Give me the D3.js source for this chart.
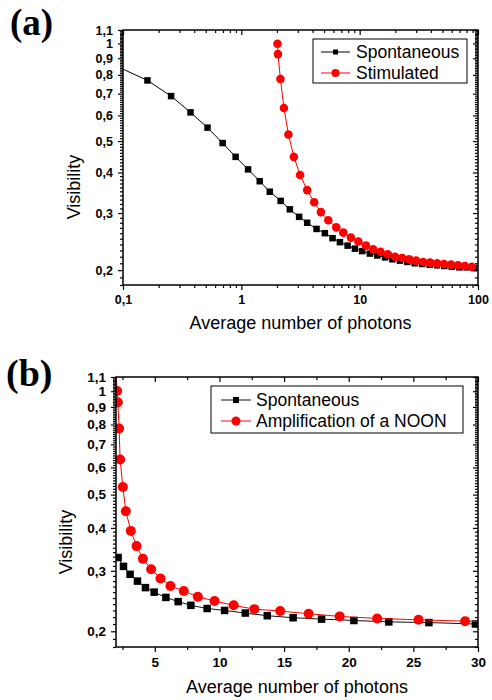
<!DOCTYPE html>
<html>
<head>
<meta charset="utf-8">
<script src="https://cdn.jsdelivr.net/npm/d3@7"></script>
<style>
  body { margin: 0; background: #fff; }
  svg { display: block; }
  .tick text { font-family: "Liberation Sans", Arial, sans-serif; font-weight: bold; }
</style>
</head>
<body>
<div id="vis"></div>
<script>
// Panel (a): log-log, average photon number vs visibility
var aSpontX = [0.09, 0.161, 0.255, 0.372, 0.518, 0.695, 0.895, 1.14, 1.43, 1.74, 2.15, 2.57, 3.08, 3.60, 4.32, 5.08, 5.90,
  6.81, 7.91, 9.12, 10.5, 12.2, 14.1, 16.4, 18.9, 21.9, 25.3, 29.2, 33.7, 39.0, 45.0, 52.0, 60.0, 69.5, 80.0, 93.0];
var aSpontV = [0.848, 0.769, 0.688, 0.613, 0.550, 0.493, 0.447, 0.409, 0.376, 0.349, 0.327, 0.308, 0.292, 0.280, 0.268, 0.260, 0.251,
  0.244, 0.238, 0.233, 0.229, 0.225, 0.222, 0.219, 0.216, 0.214, 0.212, 0.210, 0.209, 0.208, 0.207, 0.206, 0.205, 0.204, 0.204, 0.203];
var aStimX = [2.02, 2.04, 2.14, 2.29, 2.50, 2.78, 3.14, 3.60, 4.13, 4.70, 5.43, 6.34, 7.27, 8.44, 9.75, 11.3, 13.0, 15.0,
  17.3, 19.9, 22.9, 26.2, 30.0, 34.4, 39.4, 45.1, 51.6, 59.1, 67.7, 77.5, 88.7];
var aStimV = [0.998, 0.927, 0.777, 0.632, 0.524, 0.447, 0.393, 0.353, 0.324, 0.302, 0.285, 0.271, 0.261, 0.252, 0.245, 0.238, 0.232, 0.228,
  0.224, 0.220, 0.218, 0.216, 0.214, 0.212, 0.211, 0.210, 0.209, 0.208, 0.207, 0.206, 0.205];

// Panel (b): linear x, log y
var bSpontX = [2.16, 2.58, 3.09, 3.66, 4.28, 4.95, 5.86, 6.81, 7.79, 9.05, 10.4, 12.0, 13.7, 15.7, 17.9, 20.4, 23.1, 26.2, 29.8];
var bSpontV = [0.328, 0.309, 0.293, 0.280, 0.268, 0.260, 0.251, 0.244, 0.238, 0.233, 0.230, 0.226, 0.222, 0.219, 0.217, 0.215, 0.213, 0.212, 0.210];
var bNoonX = [1.98, 2.09, 2.14, 2.24, 2.32, 2.53, 2.76, 3.15, 3.59, 4.08, 4.72, 5.44, 6.21, 7.24, 8.33, 9.62, 11.1, 12.7,
  14.7, 16.9, 19.3, 22.2, 25.4, 29.0, 32.5];
var bNoonV = [1.15, 1.002, 0.928, 0.779, 0.633, 0.526, 0.447, 0.392, 0.354, 0.325, 0.303, 0.285, 0.271, 0.262, 0.252, 0.245, 0.238, 0.232,
  0.229, 0.225, 0.221, 0.218, 0.216, 0.214, 0.213];

var yTicks = [0.2, 0.3, 0.4, 0.5, 0.6, 0.7, 0.8, 0.9, 1, 1.1];
var aXTicks = [0.1, 1, 10, 100];
var bXTicks = [5, 10, 15, 20, 25, 30];

var fontSans = '"Liberation Sans", Arial, sans-serif';
var fontSerif = '"Liberation Serif", "Times New Roman", serif';

var width = 492, height = 700;

var svg = d3.select('#vis').append('svg')
  .attr('width', width)
  .attr('height', height);

function comma(v) { return String(v).replace('.', ','); }

// minor ticks every 0.01 on the visibility axis, skipping the labelled ones
var yMinor = d3.range(18, 110).filter(function (i) { return i % 10 !== 0; })
  .map(function (i) { return i / 100; });

function drawPanel(p) {
  var g = svg.append('g');

  var x = p.xScale.range([p.left, p.right]);
  var y = d3.scaleLog().domain([0.18, 1.1]).range([p.bottom, p.top]);

  var clipId = 'clip-' + p.name;
  svg.append('clipPath').attr('id', clipId)
    .append('rect')
    .attr('x', p.left).attr('y', p.top)
    .attr('width', p.right - p.left).attr('height', p.bottom - p.top);

  // ticks: all point down / left, like the original
  function addAxis(axis, tx, ty, labels, fs) {
    var a = g.append('g')
      .attr('transform', 'translate(' + tx + ',' + ty + ')')
      .call(axis);
    a.select('.domain').remove();
    a.selectAll('line').attr('stroke', '#000').attr('stroke-width', 1.2);
    a.selectAll('text').style('font-size', fs + 'px').attr('fill', '#000');
    if (!labels) a.selectAll('text').remove();
    return a;
  }

  // bottom (outward) and top (inward)
  addAxis(d3.axisBottom(x).tickValues(p.xTicks).tickFormat(comma).tickSizeInner(5).tickSizeOuter(0).tickPadding(p.xPad),
    0, p.bottom, true, p.tickFont);
  addAxis(d3.axisBottom(x).tickValues(p.xMinor).tickSizeInner(3).tickSizeOuter(0), 0, p.bottom, false);
  addAxis(d3.axisBottom(x).tickValues(p.xTicks).tickSizeInner(5).tickSizeOuter(0), 0, p.top, false);
  addAxis(d3.axisBottom(x).tickValues(p.xMinor).tickSizeInner(3).tickSizeOuter(0), 0, p.top, false);

  // left (outward) and right (inward)
  addAxis(d3.axisLeft(y).tickValues(yTicks).tickFormat(comma).tickSizeInner(5).tickSizeOuter(0).tickPadding(5),
    p.left, 0, true, p.tickFont);
  addAxis(d3.axisLeft(y).tickValues(yMinor).tickSizeInner(3).tickSizeOuter(0), p.left, 0, false);
  addAxis(d3.axisLeft(y).tickValues(yTicks).tickSizeInner(5).tickSizeOuter(0), p.right, 0, false);
  addAxis(d3.axisLeft(y).tickValues(yMinor).tickSizeInner(3).tickSizeOuter(0), p.right, 0, false);

  var plot = g.append('g').attr('clip-path', 'url(#' + clipId + ')');

  var line = d3.line()
    .x(function (d) { return x(d[0]); })
    .y(function (d) { return y(d[1]); });

  p.series.forEach(function (s) {
    var pts = d3.zip(s.x, s.v);
    plot.append('path')
      .datum(pts)
      .attr('fill', 'none')
      .attr('stroke', s.color)
      .attr('stroke-width', 1)
      .attr('d', line);

    if (s.shape === 'square') {
      plot.selectAll(null).data(pts).enter().append('rect')
        .attr('x', function (d) { return x(d[0]) - s.size / 2; })
        .attr('y', function (d) { return y(d[1]) - s.size / 2; })
        .attr('width', s.size).attr('height', s.size)
        .attr('fill', '#000');
    } else {
      plot.selectAll(null).data(pts).enter().append('circle')
        .attr('cx', function (d) { return x(d[0]); })
        .attr('cy', function (d) { return y(d[1]); })
        .attr('r', s.size)
        .attr('fill', '#ff0000');
    }
  });

  // frame
  g.append('rect')
    .attr('x', p.left).attr('y', p.top)
    .attr('width', p.right - p.left).attr('height', p.bottom - p.top)
    .attr('fill', 'none').attr('stroke', '#000').attr('stroke-width', 1.5);

  // axis titles
  g.append('text')
    .attr('x', (p.left + p.right) / 2).attr('y', p.xTitleY)
    .attr('text-anchor', 'middle')
    .style('font-family', fontSans).style('font-size', '18px')
    .text('Average number of photons');

  g.append('text')
    .attr('transform', 'translate(' + p.yTitleX + ',' + p.yTitleY + ') rotate(-90)')
    .attr('text-anchor', 'middle')
    .style('font-family', fontSans).style('font-size', '18px')
    .text('Visibility');

  // panel letter
  g.append('text')
    .attr('x', p.letterX).attr('y', p.letterY)
    .style('font-family', fontSerif).style('font-weight', 'bold')
    .style('font-size', p.letterSize + 'px')
    .text(p.letter);

  // legend
  var L = p.legend;
  g.append('rect')
    .attr('x', L.x0).attr('y', L.y0)
    .attr('width', L.x1 - L.x0).attr('height', L.y1 - L.y0)
    .attr('fill', '#fff').attr('stroke', '#000').attr('stroke-width', 1);

  p.series.forEach(function (s, i) {
    var ly = L.rows[i];
    g.append('line')
      .attr('x1', L.lineX0).attr('x2', L.lineX1)
      .attr('y1', ly).attr('y2', ly)
      .attr('stroke', s.color).attr('stroke-width', 1);
    var mx = (L.lineX0 + L.lineX1) / 2;
    if (s.shape === 'square') {
      g.append('rect')
        .attr('x', mx - L.sq / 2).attr('y', ly - L.sq / 2)
        .attr('width', L.sq).attr('height', L.sq).attr('fill', '#000');
    } else {
      g.append('circle').attr('cx', mx).attr('cy', ly).attr('r', L.r).attr('fill', '#ff0000');
    }
    g.append('text')
      .attr('x', L.textX).attr('y', ly)
      .attr('dy', '0.36em')
      .style('font-family', fontSans).style('font-size', '17.5px')
      .text(s.label);
  });
}

drawPanel({
  name: 'a',
  xScale: d3.scaleLog().domain([0.1, 100]),
  left: 123, right: 478, top: 30, bottom: 285,
  xTicks: aXTicks,
  xMinor: [0.2, 0.3, 0.4, 0.5, 0.6, 0.7, 0.8, 0.9, 2, 3, 4, 5, 6, 7, 8, 9, 20, 30, 40, 50, 60, 70, 80, 90],
  xPad: 5, tickFont: 12.5,
  xTitleY: 329, yTitleX: 80, yTitleY: 187,
  letter: '(a)', letterX: 10, letterY: 35, letterSize: 37,
  series: [
    { x: aSpontX, v: aSpontV, color: '#000', shape: 'square', size: 6.5, label: 'Spontaneous' },
    { x: aStimX, v: aStimV, color: '#ff0000', shape: 'circle', size: 4.3, label: 'Stimulated' }
  ],
  legend: { x0: 313, x1: 467, y0: 39, y1: 83, rows: [52, 73], lineX0: 321, lineX1: 350, textX: 356, sq: 5, r: 4 }
});

drawPanel({
  name: 'b',
  xScale: d3.scaleLinear().domain([2, 30]),
  left: 116, right: 478, top: 377, bottom: 647,
  xTicks: bXTicks,
  xMinor: [2.5, 7.5, 12.5, 17.5, 22.5, 27.5],
  xPad: 5.5, tickFont: 13.5,
  xTitleY: 693, yTitleX: 72, yTitleY: 542,
  letter: '(b)', letterX: 6, letterY: 386, letterSize: 38,
  series: [
    { x: bSpontX, v: bSpontV, color: '#111', shape: 'square', size: 7.5, label: 'Spontaneous' },
    { x: bNoonX, v: bNoonV, color: '#ff0000', shape: 'circle', size: 5, label: 'Amplification of a NOON' }
  ],
  legend: { x0: 211, x1: 463, y0: 386, y1: 433, rows: [400, 421], lineX0: 221, lineX1: 251, textX: 256, sq: 6, r: 4.5 }
});
</script>
</body>
</html>
